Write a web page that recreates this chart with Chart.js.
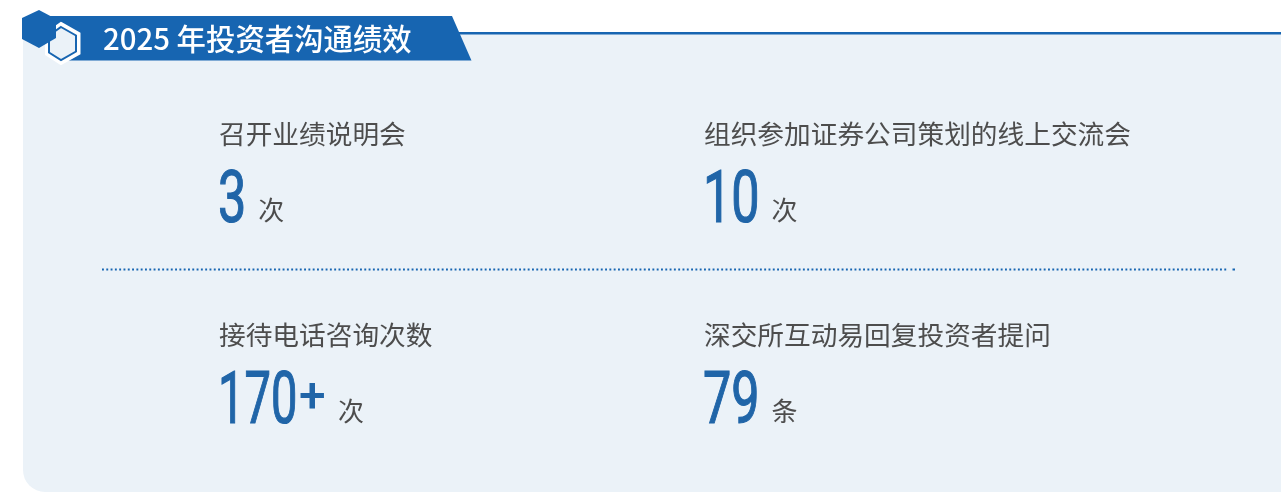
<!DOCTYPE html>
<html>
<head>
<meta charset="utf-8">
<title>2025 年投资者沟通绩效</title>
<style>
  html, body { margin: 0; padding: 0; background: #fff; overflow: hidden; }
  canvas { display: block; }
</style>
<script src="https://cdn.jsdelivr.net/npm/chart.js@4"></script>
</head>
<body>
<canvas id="kpiChart" width="1281" height="492"></canvas>
<script>
// Data
const chartTitle = '2025 年投资者沟通绩效';
const columns = ['left', 'right'];
const rows = ['top', 'bottom'];
const itemColumns = ['left', 'right', 'left', 'right'];
const itemRows = ['top', 'top', 'bottom', 'bottom'];
const itemLabels = ['召开业绩说明会', '组织参加证券公司策划的线上交流会', '接待电话咨询次数', '深交所互动易回复投资者提问'];
const itemValues = [3, 10, 170, 79];
const itemSuffixes = ['', '', '+', ''];
const itemUnits = ['次', '次', '次', '条'];

const BLUE = '#1765b1';
const NUM_BLUE = '#2065a8';
const PANEL = '#ebf2f8';
const GREY = '#4d4d4d';
const CJK = '"Noto Sans CJK SC", sans-serif';

function poly(ctx, pts) {
    ctx.beginPath();
    pts.forEach((p, i) => i ? ctx.lineTo(p[0], p[1]) : ctx.moveTo(p[0], p[1]));
    ctx.closePath();
}

// Panel, header ribbon and icon go behind the data
const backdrop = {
    id: 'backdrop',
    beforeDatasetsDraw(chart) {
        const ctx = chart.ctx;
        ctx.save();

        ctx.fillStyle = PANEL;
        ctx.beginPath();
        ctx.roundRect(23, 33, 1300, 459, [0, 0, 0, 22]);
        ctx.fill();

        ctx.fillStyle = BLUE;
        ctx.fillRect(458, 32, 823, 2.5);

        poly(ctx, [[45, 16], [452, 16], [471.5, 60.5], [60, 60.5]]);
        ctx.fill();

        // outlined hexagon
        poly(ctx, [[61, 24], [78.5, 34], [78.5, 53], [61, 63], [47, 54], [47, 34]]);
        ctx.fillStyle = PANEL;
        ctx.fill();
        ctx.lineJoin = 'miter';
        ctx.strokeStyle = '#fff';
        ctx.lineWidth = 4;
        ctx.stroke();
        poly(ctx, [[61, 27], [76, 35.5], [76, 51.5], [61, 60], [49, 52.5], [49, 35.5]]);
        ctx.fillStyle = PANEL;
        ctx.fill();
        ctx.strokeStyle = BLUE;
        ctx.lineWidth = 2;
        ctx.stroke();

        // filled hexagon
        poly(ctx, [[22, 18], [39, 10], [56, 19], [56, 38], [39, 48], [22, 39]]);
        ctx.fillStyle = BLUE;
        ctx.fill();

        // dotted divider
        ctx.strokeStyle = BLUE;
        ctx.lineWidth = 2;
        ctx.setLineDash([1.9, 2.4]);
        ctx.beginPath();
        ctx.moveTo(102, 269.5);
        ctx.lineTo(1228, 269.5);
        ctx.stroke();
        ctx.setLineDash([]);
        ctx.fillStyle = BLUE;
        ctx.fillRect(1232.5, 268.5, 2.5, 2);

        ctx.fillStyle = '#fff';
        ctx.font = '500 29.4px ' + CJK;
        ctx.textBaseline = 'alphabetic';
        ctx.fillText(chartTitle, 103, 50);
        ctx.restore();
    }
};

// Each item is drawn around its point from the category scales
const kpiLabels = {
    id: 'kpiLabels',
    afterDatasetsDraw(chart) {
        const ctx = chart.ctx;
        ctx.save();
        ctx.textBaseline = 'alphabetic';
        chart.getDatasetMeta(0).data.forEach((pt, i) => {
            ctx.fillStyle = GREY;
            ctx.font = '400 26.7px ' + CJK;
            ctx.fillText(itemLabels[i], pt.x, pt.y - 78);

            const numText = String(itemValues[i]);
            ctx.font = '400 73px Roboto, sans-serif';
            const squeeze = itemSuffixes[i] ? 0.645 : 0.69;
            const numW = ctx.measureText(numText).width * squeeze;
            ctx.save();
            ctx.translate(pt.x - 1, pt.y);
            ctx.scale(squeeze, 1);
            ctx.fillStyle = NUM_BLUE;
            ctx.strokeStyle = NUM_BLUE;
            ctx.lineWidth = 1.2;
            ctx.fillText(numText, 0, 0);
            ctx.strokeText(numText, 0, 0);
            ctx.restore();

            let unitX = pt.x + numW + 11;
            if (itemSuffixes[i]) {
                ctx.font = '500 48px Roboto, sans-serif';
                ctx.fillStyle = NUM_BLUE;
                ctx.fillText(itemSuffixes[i], pt.x + 80, pt.y - 11);
                unitX = pt.x + 119;
            }

            ctx.fillStyle = GREY;
            ctx.font = '400 26px ' + CJK;
            ctx.fillText(itemUnits[i], unitX, pt.y - 2);
        });
        ctx.restore();
    }
};

const ctxKpi = document.getElementById('kpiChart').getContext('2d');
const kpiChart = new Chart(ctxKpi, {
    type: 'line',
    data: {
        datasets: [{
            label: chartTitle,
            data: itemValues.map((v, i) => ({ x: itemColumns[i], y: itemRows[i], value: v })),
            showLine: false,
            pointRadius: 0
        }]
    },
    options: {
        responsive: false,
        animation: false,
        layout: { padding: { left: 219, right: 577, top: 222, bottom: 69 } },
        plugins: {
            legend: { display: false },
            tooltip: { enabled: false }
        },
        scales: {
            x: { type: 'category', labels: columns, offset: false, display: false },
            y: { type: 'category', labels: rows, offset: false, display: false }
        }
    },
    plugins: [backdrop, kpiLabels]
});
</script>
</body>
</html>
